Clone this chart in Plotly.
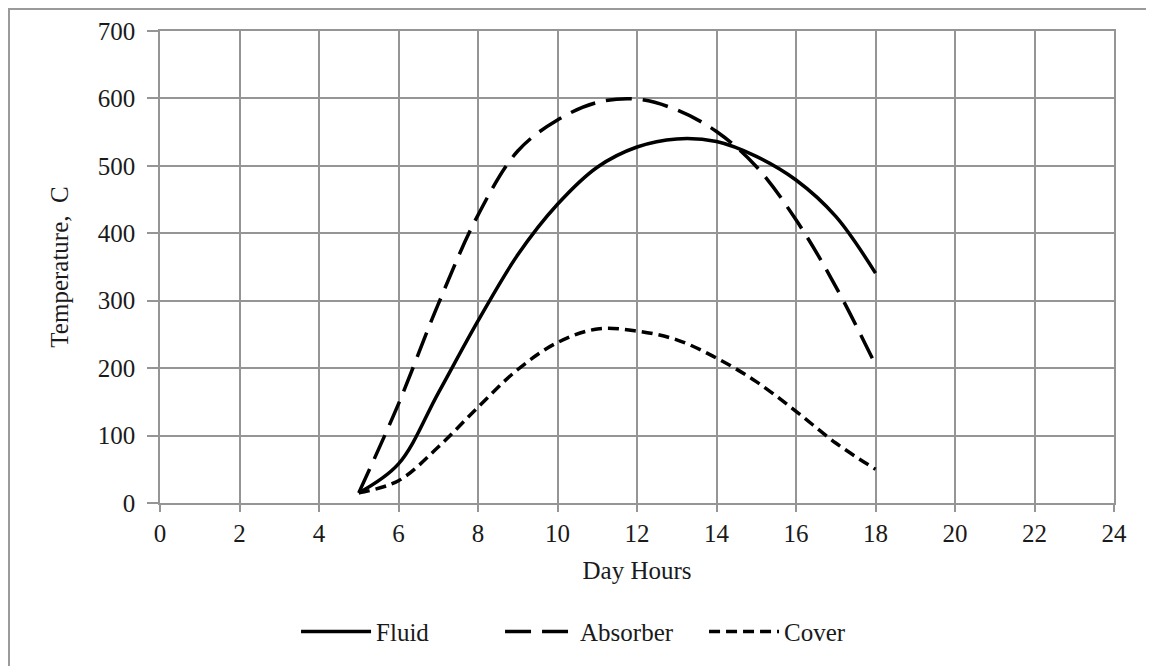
import plotly.graph_objects as go

hours = [5, 6, 7, 8, 9, 10, 11, 12, 13, 14, 15, 16, 17, 18]
fluid = [15, 58, 163, 270, 368, 443, 498, 528, 540, 536, 514, 479, 425, 341]
absorber = [15, 147, 295, 427, 522, 568, 594, 599, 583, 551, 499, 420, 321, 205]
cover = [15, 33, 83, 142, 198, 238, 258, 255, 242, 215, 180, 136, 89, 50]

x_ticks = list(range(0, 25, 2))
y_ticks = list(range(0, 701, 100))

FONT = "Liberation Serif"
GRID = "#959595"
TXT = "#1a1a1a"

fig = go.Figure()
fig.add_trace(go.Scatter(x=hours, y=fluid, name="Fluid", mode="lines",
                         line=dict(color="black", width=3.5, shape="spline", smoothing=1.0)))
fig.add_trace(go.Scatter(x=hours, y=absorber, name="Absorber", mode="lines",
                         line=dict(color="black", width=3.5, shape="spline", smoothing=1.0,
                                   dash="26px,11px")))
fig.add_trace(go.Scatter(x=hours, y=cover, name="Cover", mode="lines",
                         line=dict(color="black", width=3.5, shape="spline", smoothing=1.0,
                                   dash="11px,6px")))

fig.update_layout(
    width=1146, height=658,
    margin=dict(l=152, r=40, t=23, b=163, autoexpand=False),
    paper_bgcolor="white", plot_bgcolor="white",
    font=dict(family=FONT, size=25, color=TXT),
    showlegend=True,
    legend=dict(orientation="h", x=0.1426, y=-0.273, xanchor="left", yanchor="middle",
                font=dict(family=FONT, size=25, color=TXT),
                itemwidth=70, entrywidth=119, entrywidthmode="pixels",
                bgcolor="rgba(0,0,0,0)"),
    xaxis=dict(range=[0, 24], tickmode="array", tickvals=x_ticks,
               ticktext=[str(v) for v in x_ticks],
               showgrid=True, gridcolor=GRID, gridwidth=1.5,
               showline=True, linecolor=GRID, linewidth=1.5, mirror=True,
               zeroline=False, ticks="outside", ticklen=7, tickcolor=GRID, tickwidth=1.5,
               tickfont=dict(family=FONT, size=25, color=TXT),
               title=dict(text="Day Hours", standoff=16, font=dict(family=FONT, size=25, color=TXT)),
               fixedrange=True),
    yaxis=dict(range=[0, 700], tickmode="array", tickvals=y_ticks,
               ticktext=[str(v) for v in y_ticks],
               showgrid=True, gridcolor=GRID, gridwidth=1.5,
               showline=True, linecolor=GRID, linewidth=1.5, mirror=True,
               zeroline=False, ticks="outside", ticklen=11, tickcolor=GRID, tickwidth=1.5,
               ticklabelstandoff=7,
               tickfont=dict(family=FONT, size=25, color=TXT),
               title=dict(text="Temperature,  C", standoff=22, font=dict(family=FONT, size=25, color=TXT)),
               fixedrange=True),
)

fig.add_shape(type="rect", xref="paper", yref="paper",
              x0=-0.1583, y0=-0.36, x1=1.06, y1=1.0466,
              line=dict(color="#9a9a9a", width=2), fillcolor="rgba(0,0,0,0)", layer="below")

fig.write_html("out.html")
